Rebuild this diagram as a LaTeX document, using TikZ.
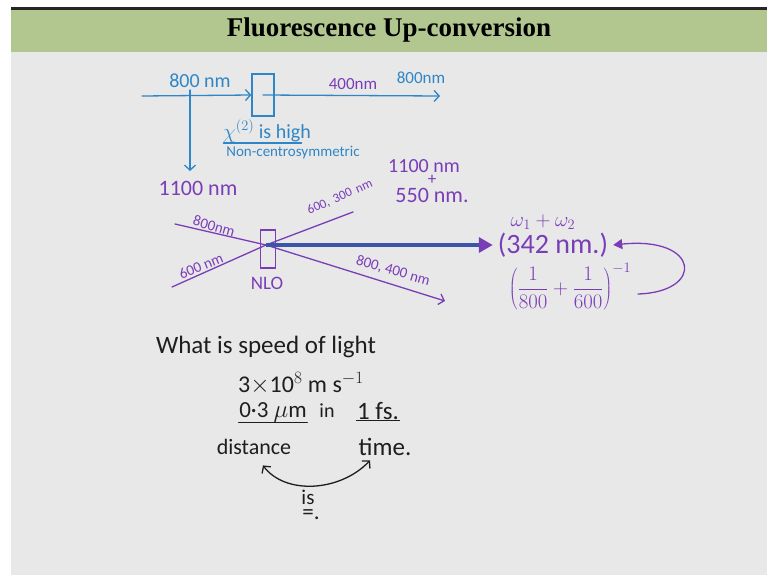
\documentclass[tikz,border=0pt]{standalone}
\usepackage{fontspec}
\setmainfont{Carlito}
\newfontfamily\titlefont{Liberation Serif}
\usetikzlibrary{arrows.meta}
\definecolor{inkblue}{HTML}{2F86C6}
\definecolor{inkviolet}{HTML}{7A3DB8}
\definecolor{inknavy}{HTML}{3D55A8}
\definecolor{inkblack}{HTML}{1E1E1E}
\definecolor{slidegreen}{HTML}{B1C78F}
\definecolor{slidegrey}{HTML}{E8E8E8}
\tikzset{
  pen/.style={line width=1.3pt, line cap=round, >={Straight Barb[length=5pt,width=11pt]}},
  hand/.style={inner sep=0.5pt, font=\fontsize{#1}{#1}\selectfont},
  hand/.default=19,
  box/.style={pen, draw, minimum width=#1, inner sep=0pt},
}
\begin{document}
\begin{tikzpicture}[x=1pt,y=-1pt]
\useasboundingbox (0,0) rectangle (767,578);
% slide background
\fill[white] (0,0) rectangle (767,578);
\fill[slidegrey] (11,52) rectangle (767,575);
\fill[slidegreen] (11,10) rectangle (767,52);
\fill[black!85] (11,7) rectangle (767,10);
\node[font=\titlefont\bfseries\fontsize{27}{30}\selectfont] (title) at (389,30) {Fluorescence Up-conversion};

% blue sketch: chi(2) crystal
\node[box=22pt, draw=inkblue, minimum height=42pt] (xtal) at (263,95) {};
\coordinate (inL) at (142,96);
\coordinate (outR) at (440,96);
\coordinate (splitTop) at (190,90);
\coordinate (splitEnd) at (190,171);
\node[hand=20, text=inkblue] (pump) at (200,81) {800 nm};
\node[hand=17, text=inkviolet] (shg) at (353,84) {400nm};
\node[hand=17, text=inkblue] (fund) at (421,78) {800nm};
\node[hand=20, text=inkblue] (chi) at (267,131) {$\chi^{(2)}$ is high};
\node[hand=15, text=inkblue] (noncent) at (293,153) {Non-centrosymmetric};
\draw[pen, inkblue, ->] (inL) -- (xtal.west);
\draw[pen, inkblue, ->] (xtal.center) -- (outR);
\draw[pen, inkblue, ->] (splitTop) -- (splitEnd);
\draw[pen, inkblue] ([xshift=1pt]chi.south west) -- ([xshift=-10pt]chi.south east);

% violet sketch: sum frequency in NLO crystal
\node[hand=22, text=inkviolet] (idler) at (198,188) {1100 nm};
\node[hand=20, text=inkviolet] (sfgA) at (424,166) {1100 nm};
\node[hand=17, text=inkviolet] (sfgPlus) at (432,180) {+};
\node[hand=22, text=inkviolet] (sfgB) at (432,195) {550 nm.};
\node[box=15pt, draw=inkviolet, minimum height=38pt] (nlo) at (268,249) {};
\node[hand=19, text=inkviolet] (nlolabel) at (267,283) {NLO};
\coordinate (cross) at (266,245);
\coordinate (a800) at (175,224);
\coordinate (a600) at (172,287);
\coordinate (e600) at (353,212);
\coordinate (e800) at (445,301);
\draw[pen, inkviolet] (a800) -- (cross);
\draw[pen, inkviolet, ->] (cross) -- (e800);
\draw[pen, inkviolet] (a600) -- (cross) -- (e600);
\node[hand=15, text=inkviolet, rotate=-16] (l800) at (214,226) {800nm};
\node[hand=15, text=inkviolet, rotate=22] (l600) at (201,266) {600 nm};
\node[hand=13, text=inkviolet, rotate=24] (l600b) at (340,197) {600,\hspace{5pt}300\hspace{5pt}nm};
\node[hand=15, text=inkviolet, rotate=-16] (l800b) at (393,271) {800, 400 nm};

% sum frequency result
\node[hand=21, text=inkviolet] (omega) at (543,222) {$\omega_1+\omega_2$};
\node[hand=28, text=inkviolet, inner sep=5pt] (sum) at (553,245) {(342 nm.)};
\node[hand=20, text=inkviolet] (recip) at (570,287) {$\displaystyle\left(\frac{1}{800}+\frac{1}{600}\right)^{-1}$};
\coordinate (loopStart) at (638,294);
\draw[line width=3.5pt, inknavy, -{Triangle[length=14pt,width=15pt,color=inkviolet]}] (cross) -- (sum.west);
\draw[pen, inkviolet, -{Triangle[length=9pt,width=10pt]}] (loopStart) .. controls (705,292) and (700,236) .. (sum.east);

% black notes: speed of light
\node[hand=25, text=inkblack] (what) at (266,347) {What is speed of light};
\node[hand=24, text=inkblack] (speed) at (301,383) {3$\times$10$^{8}$ m s$^{-1}$};
\node[hand=23, text=inkblack] (dist) at (273,412) {0·3 $\mu$m};
\node[hand=20, text=inkblack] (in) at (327,411) {in};
\node[hand=25, text=inkblack] (onefs) at (378,411) {1 fs.};
\node[hand=22, text=inkblack] (distance) at (254,447) {distance};
\node[hand=25, text=inkblack] (time) at (385,447) {time.};
\node[hand=21, text=inkblack] (is) at (308,497) {is};
\node[hand=23, text=inkblack] (eq) at (311,515) {=.};
\draw[pen, inkblack] (dist.south west) -- (dist.south east);
\draw[pen, inkblack] (onefs.south west) -- (onefs.south east);
\draw[pen, inkblack, <->] ([shift={(9,10)}]distance.south) .. controls (285,495) and (340,492) .. ([shift={(-15,4)}]time.south);
\end{tikzpicture}
\end{document}
